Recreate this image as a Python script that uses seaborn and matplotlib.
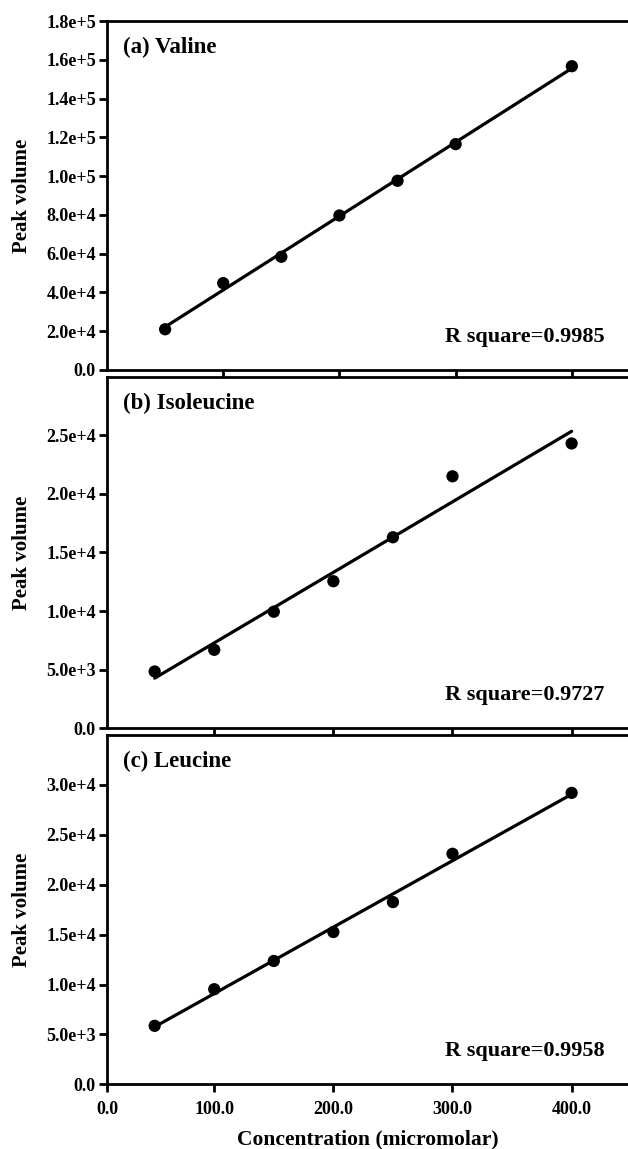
import matplotlib
matplotlib.use("Agg")

import matplotlib.pyplot as plt
import numpy as np
import pandas as pd
import seaborn as sns
from matplotlib.ticker import FixedLocator, FuncFormatter

# Concentrations (micromolar) and peak volumes
concentration = [50, 100, 150, 200, 250, 300, 400]
valine = [21000, 44800, 58400, 79700, 97600, 116500, 156700]
isoleucine = [4850, 6700, 9950, 12550, 16300, 21500, 24300]
leucine = [5860, 9530, 12360, 15260, 18260, 23100, 29200]

panel_titles = ["(a) Valine", "(b) Isoleucine", "(c) Leucine"]
r_square = ["0.9985", "0.9727", "0.9958"]
y_ticks = [
    np.arange(0, 1.8e5 + 1, 2e4),
    np.arange(0, 2.5e4 + 1, 5e3),
    np.arange(0, 3.0e4 + 1, 5e3),
]
y_limits = [(0, 1.8e5), (0, 3.0e4), (0, 3.5e4)]
x_limits = [(0, 448), (10, 447), (10, 447)]
x_tick_labels = ["0.0", "100.0", "200.0", "300.0", "400.0"]

FONT = ["Liberation Serif", "DejaVu Serif"]
LW = 2.0


def sci_label(value, _pos=None):
    if value == 0:
        return "0.0"
    exp = int(np.floor(np.log10(abs(value))))
    mant = value / 10 ** exp
    return f"{mant:.1f}e+{exp}"


def main() -> None:
    sns.set_theme(style="ticks")
    plt.rcParams["font.family"] = FONT
    plt.rcParams["font.weight"] = "bold"
    plt.rcParams["text.color"] = "black"
    plt.rcParams["axes.labelcolor"] = "black"

    fig = plt.figure(figsize=(6.28, 11.49), dpi=100)
    boxes = [
        [0.1704, 0.678, 0.829, 0.3037],
        [0.1704, 0.3661, 0.829, 0.3061],
        [0.1704, 0.0563, 0.829, 0.3040],
    ]
    series = [valine, isoleucine, leucine]

    for i, values in enumerate(series):
        ax = fig.add_axes(boxes[i])
        df = pd.DataFrame({"conc": concentration, "peak": values})
        sns.regplot(
            data=df,
            x="conc",
            y="peak",
            ci=None,
            color="black",
            scatter_kws={"s": 78, "alpha": 1, "edgecolor": "none", "zorder": 3, "clip_on": False},
            line_kws={"linewidth": 2.3},
            ax=ax,
        )
        ax.set_xlim(*x_limits[i])
        ax.set_ylim(*y_limits[i])

        ax.yaxis.set_major_locator(FixedLocator(y_ticks[i]))
        ax.yaxis.set_major_formatter(FuncFormatter(sci_label))

        if i == 2:
            ax.set_xticks([x_limits[i][0], 100, 200, 300, 400])
            ax.set_xticklabels(x_tick_labels)
            ax.set_xlabel("Concentration (micromolar)", fontsize=15.5,
                          fontweight="bold", labelpad=8, color="black")
        else:
            ax.set_xticks([100, 200, 300, 400])
            ax.set_xticklabels([])
            ax.set_xlabel("")

        ax.set_ylabel("Peak volume", fontsize=15, fontweight="bold", labelpad=10,
                      color="black")

        ax.tick_params(axis="both", direction="out", length=6, width=LW,
                       labelsize=13, colors="black", pad=2)
        ax.tick_params(axis="x", pad=6)
        for lab in ax.get_xticklabels() + ax.get_yticklabels():
            lab.set_fontweight("bold")

        for side in ["top", "left", "bottom"]:
            ax.spines[side].set_linewidth(LW)
            ax.spines[side].set_color("black")
        ax.spines["right"].set_visible(False)

        ax.text(0.031, 0.925, panel_titles[i], transform=ax.transAxes, color="black",
                fontsize=16.5, fontweight="bold", ha="left", va="center")
        ax.text(0.956, 0.095, f"R square={r_square[i]}", transform=ax.transAxes,
                color="black", fontsize=16, fontweight="bold", ha="right", va="center")

    fig.savefig("out.png", dpi=100)
    plt.close(fig)


if __name__ == "__main__":
    main()
